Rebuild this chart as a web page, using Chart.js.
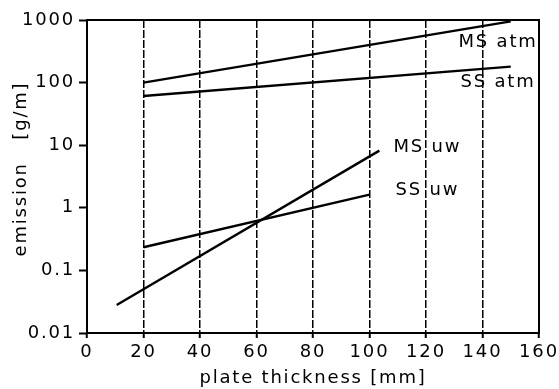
<!DOCTYPE html>
<html><head><meta charset="utf-8">
<script src="https://cdn.jsdelivr.net/npm/chart.js@4"></script>
<style>html,body{margin:0;padding:0;background:#fff}#wrap{width:559px;height:389px}</style>
</head><body><div id="wrap"><canvas id="c" width="559" height="389"></canvas></div>
<script>
const xTicks = [0, 20, 40, 60, 80, 100, 120, 140, 160];
const yTicks = [0.01, 0.1, 1, 10, 100, 1000];
const yTickLabels = ["0.01", "0.1", "1", "10", "100", "1000"];
const msAtm = [{x: 20, y: 100}, {x: 150, y: 950}];
const ssAtm = [{x: 20, y: 61}, {x: 150, y: 180}];
const msUw = [{x: 10.5, y: 0.028}, {x: 103.5, y: 8.2}];
const ssUw = [{x: 20, y: 0.234}, {x: 100, y: 1.62}];
const seriesLabels = ["MS atm", "SS atm", "MS uw", "SS uw"];
const labelPos = [{x: 145.5, y: 440}, {x: 145.5, y: 100}, {x: 120.5, y: 9.4}, {x: 120.5, y: 1.92}];

const FONT = "'DejaVu Sans', sans-serif";
const SPACING = '1.8px';
const lineDs = (lab, data) => ({label: lab, data, borderColor: '#000', borderWidth: 2.4,
  pointRadius: 0, fill: false, tension: 0});

const spacingPlugin = {
  id: 'spacing',
  beforeLayout(chart) { try { chart.ctx.letterSpacing = SPACING; } catch (e) {} },
  beforeDraw(chart) { try { chart.ctx.letterSpacing = SPACING; } catch (e) {} }
};

const labelsPlugin = {
  id: 'lbls',
  afterDatasetsDraw(chart) {
    const {ctx, chartArea: a, scales: {x, y}} = chart;
    ctx.save();
    ctx.strokeStyle = '#000'; ctx.lineWidth = 2;
    ctx.strokeRect(a.left, a.top, a.right - a.left, a.bottom - a.top);
    ctx.fillStyle = '#000';
    ctx.font = "18px " + FONT;
    ctx.textAlign = 'center'; ctx.textBaseline = 'middle';
    try { ctx.letterSpacing = SPACING; } catch (e) {}
    seriesLabels.forEach((t, i) => {
      const px = x.getPixelForValue(labelPos[i].x), py = y.getPixelForValue(labelPos[i].y);
      ctx.fillText(t, px, py);
    });
    ctx.restore();
  }
};

new Chart(document.getElementById('c'), {
  type: 'line',
  data: {datasets: [lineDs(seriesLabels[0], msAtm), lineDs(seriesLabels[1], ssAtm),
                    lineDs(seriesLabels[2], msUw), lineDs(seriesLabels[3], ssUw)]},
  options: {
    responsive: false, animation: false, devicePixelRatio: 1,
    layout: {padding: {left: 0, right: 20, top: 20, bottom: 0}},
    plugins: {legend: {display: false}, tooltip: {enabled: false}},
    scales: {
      x: {
        type: 'linear', min: 0, max: 160,
        afterBuildTicks: s => { s.ticks = xTicks.map(v => ({value: v})); },
        afterFit: s => { s.height = 56; s.paddingLeft = 0; s.paddingRight = 0; },
        ticks: {font: {family: FONT, size: 18}, color: '#000', padding: 4, maxRotation: 0},
        grid: {color: '#000', lineWidth: 1.5, tickLength: 5, tickColor: '#000', tickWidth: 2},
        border: {display: true, color: '#000', width: 2, dash: [8, 2]},
        title: {display: true, text: 'plate thickness [mm]', color: '#000',
                font: {family: FONT, size: 18}, padding: {top: 0, bottom: 0}}
      },
      y: {
        type: 'logarithmic', min: 0.01, max: 1000,
        afterBuildTicks: s => { s.ticks = yTicks.map(v => ({value: v})); },
        afterFit: s => { s.width = 87; s.paddingTop = 0; s.paddingBottom = 0; },
        ticks: {font: {family: FONT, size: 18}, color: '#000', padding: 4,
                callback: (v) => { const i = yTicks.indexOf(v); return i >= 0 ? yTickLabels[i] : ''; }},
        grid: {drawOnChartArea: false, tickLength: 8, tickColor: '#000', tickWidth: 2},
        border: {display: true, color: '#000', width: 2},
        title: {display: true, text: '  emission   [g/m]', color: '#000',
                font: {family: FONT, size: 18}, padding: {top: 11, bottom: 0}}
      }
    }
  },
  plugins: [spacingPlugin, labelsPlugin]
});
</script></body></html>
